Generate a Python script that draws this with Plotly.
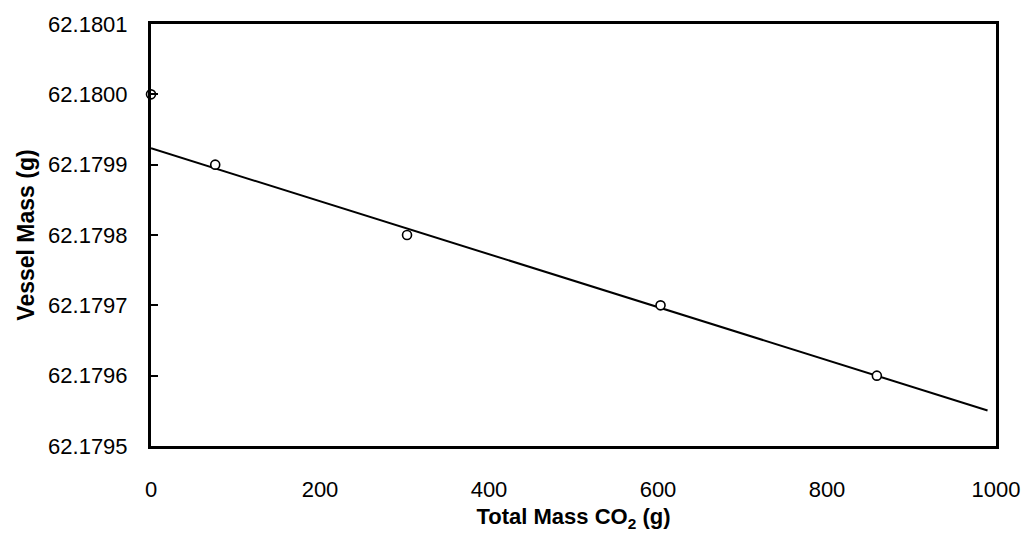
import numpy as np
import plotly.graph_objects as go

# Data
total_mass_co2 = [0, 76, 303, 603, 859]
vessel_mass = [62.1800, 62.1799, 62.1798, 62.1797, 62.1796]

# Regression line fitted to the points after the first one, drawn over this span
fit_span = [0, 990]
fit_start_index = 1

x_ticks = [0, 200, 400, 600, 800, 1000]
y_ticks = [62.1795, 62.1796, 62.1797, 62.1798, 62.1799, 62.1800, 62.1801]

slope, intercept = np.polyfit(total_mass_co2[fit_start_index:], vessel_mass[fit_start_index:], 1)
fit_x = np.array(fit_span, dtype=float)
fit_y = slope * fit_x + intercept

fig = go.Figure()
fig.add_trace(go.Scatter(
    x=fit_x, y=fit_y, mode="lines",
    line=dict(color="black", width=2),
    showlegend=False, hoverinfo="skip",
))
fig.add_trace(go.Scatter(
    x=total_mass_co2, y=vessel_mass, mode="markers",
    marker=dict(symbol="circle", size=9, color="white",
                line=dict(color="black", width=1.6)),
    cliponaxis=False, showlegend=False,
))

font_family = "Arial, Liberation Sans, Helvetica, sans-serif"

fig.update_layout(
    width=1032, height=538,
    margin=dict(l=151, r=30, t=22, b=84),
    paper_bgcolor="white", plot_bgcolor="white",
    font=dict(family=font_family, size=22, color="black"),
    xaxis=dict(
        range=[0, 1000], tickvals=x_ticks, ticktext=[str(v) for v in x_ticks],
        showgrid=False, zeroline=False,
        showline=True, linecolor="black", linewidth=3, mirror=True,
        ticks="", ticklabelstandoff=22,
        tickfont=dict(size=22),
        title=dict(text="<b>Total Mass CO<sub>2</sub> (g)</b>", font=dict(size=22), standoff=8),
    ),
    yaxis=dict(
        range=[62.1795, 62.1801], tickvals=y_ticks,
        ticktext=[f"{v:.4f}" for v in y_ticks],
        showgrid=False, zeroline=False,
        showline=True, linecolor="black", linewidth=3, mirror=True,
        ticks="inside", ticklen=7, tickwidth=2, tickcolor="black",
        ticklabelstandoff=16,
        tickfont=dict(size=22),
        title=dict(text="<b>Vessel Mass (g)</b>", font=dict(size=23), standoff=8),
    ),
)

fig.write_html("out.html")
